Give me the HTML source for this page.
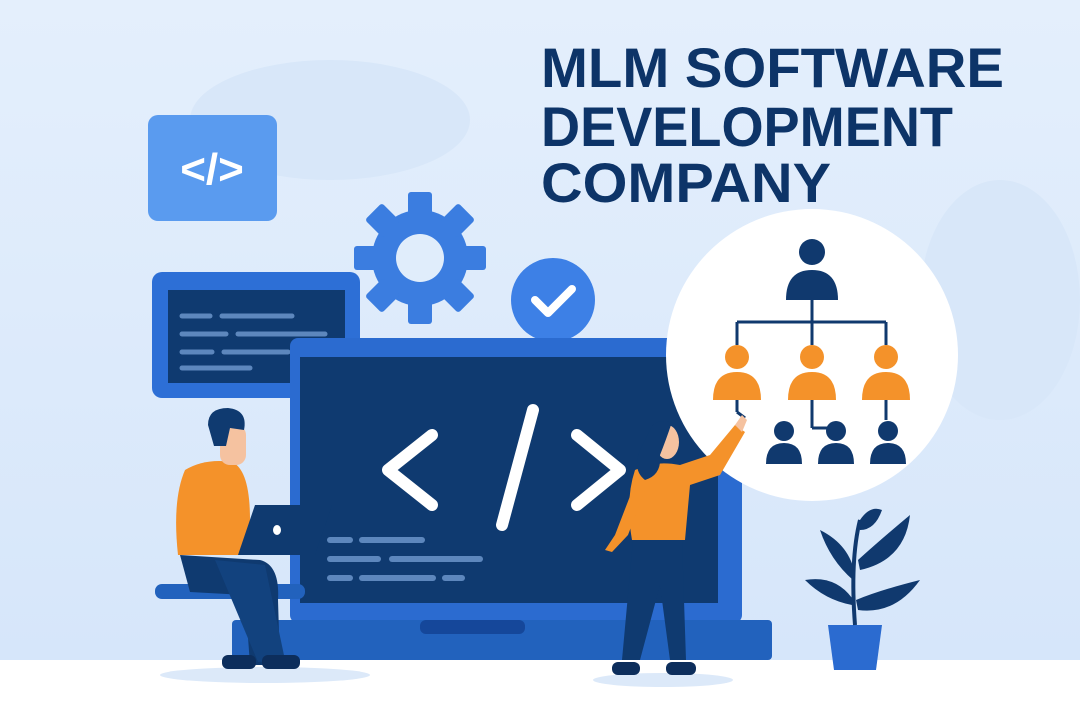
<!DOCTYPE html>
<html><head><meta charset="utf-8"><style>
html,body{margin:0;padding:0}
body{width:1080px;height:720px;overflow:hidden;background:#fff}
svg{display:block}
</style></head><body>
<svg width="1080" height="720" viewBox="0 0 1080 720" xmlns="http://www.w3.org/2000/svg">
<defs>
<linearGradient id="bg" x1="0" y1="0" x2="0" y2="1">
<stop offset="0" stop-color="#e4effc"/><stop offset="1" stop-color="#d6e6fa"/>
</linearGradient>
</defs>
<rect width="1080" height="665" fill="url(#bg)"/>
<rect y="660" width="1080" height="60" fill="#ffffff"/>
<ellipse cx="330" cy="120" rx="140" ry="60" fill="#d8e7f9"/>
<ellipse cx="1000" cy="300" rx="80" ry="120" fill="#d8e7f9"/>
<g font-family="Liberation Sans, sans-serif" font-weight="bold" font-size="56" fill="#0d3468">
<text x="541" y="87" textLength="463" lengthAdjust="spacingAndGlyphs">MLM SOFTWARE</text>
<text x="541" y="146" textLength="412" lengthAdjust="spacingAndGlyphs">DEVELOPMENT</text>
<text x="541" y="202" textLength="290" lengthAdjust="spacingAndGlyphs">COMPANY</text>
</g>
<rect x="148" y="115" width="129" height="106" rx="10" fill="#5a9bef"/>
<text x="212" y="184" text-anchor="middle" font-family="Liberation Sans, sans-serif" font-weight="bold" font-size="44" fill="#fff">&lt;/&gt;</text>
<g transform="translate(420,258)" fill="#3b7de0">
<circle r="48"/>
<g>
<rect x="-12" y="-66" width="24" height="26" rx="3"/>
<rect x="-12" y="-66" width="24" height="26" rx="3" transform="rotate(45)"/>
<rect x="-12" y="-66" width="24" height="26" rx="3" transform="rotate(90)"/>
<rect x="-12" y="-66" width="24" height="26" rx="3" transform="rotate(135)"/>
<rect x="-12" y="-66" width="24" height="26" rx="3" transform="rotate(180)"/>
<rect x="-12" y="-66" width="24" height="26" rx="3" transform="rotate(225)"/>
<rect x="-12" y="-66" width="24" height="26" rx="3" transform="rotate(270)"/>
<rect x="-12" y="-66" width="24" height="26" rx="3" transform="rotate(315)"/>
</g>
<circle r="24" fill="#e0edfb"/>
</g>
<circle cx="553" cy="300" r="42" fill="#3d80e6"/>
<path d="M535 300 L548 313 L572 289" stroke="#fff" stroke-width="8" fill="none" stroke-linecap="round" stroke-linejoin="round"/>
<rect x="152" y="272" width="208" height="126" rx="10" fill="#2d6fd6"/>
<rect x="168" y="290" width="177" height="93" fill="#0f3a70"/>
<g stroke="#5d87bd" stroke-width="5" stroke-linecap="round">
<line x1="182" y1="316" x2="210" y2="316"/><line x1="222" y1="316" x2="292" y2="316"/>
<line x1="182" y1="334" x2="226" y2="334"/><line x1="238" y1="334" x2="325" y2="334"/>
<line x1="182" y1="352" x2="212" y2="352"/><line x1="224" y1="352" x2="288" y2="352"/>
<line x1="182" y1="368" x2="250" y2="368"/>
</g>
<rect x="290" y="338" width="452" height="285" rx="8" fill="#2b6bd0"/>
<rect x="300" y="357" width="418" height="246" fill="#0f3a70"/>
<rect x="232" y="620" width="540" height="40" rx="4" fill="#2262bd"/>
<rect x="420" y="620" width="105" height="14" rx="6" fill="#15479a"/>
<g fill="none" stroke="#fff" stroke-width="12" stroke-linecap="round" stroke-linejoin="round">
<path d="M432 435 L388 470 L432 505"/>
<path d="M577 435 L620 470 L577 505"/>
<line x1="533" y1="410" x2="502" y2="525"/>
</g>
<g stroke="#5d87bd" stroke-width="6" stroke-linecap="round">
<line x1="330" y1="540" x2="350" y2="540"/><line x1="362" y1="540" x2="422" y2="540"/>
<line x1="330" y1="559" x2="378" y2="559"/><line x1="392" y1="559" x2="480" y2="559"/>
<line x1="330" y1="578" x2="350" y2="578"/><line x1="362" y1="578" x2="433" y2="578"/><line x1="445" y1="578" x2="462" y2="578"/>
</g>
<circle cx="812" cy="355" r="146" fill="#fff"/>
<g fill="#10396e">
<circle cx="812" cy="252" r="13"/><path d="M786 300 Q786 270 812 270 Q838 270 838 300 Z"/>
</g>
<g stroke="#10396e" stroke-width="3" fill="none">
<line x1="812" y1="300" x2="812" y2="322"/>
<line x1="737" y1="322" x2="886" y2="322"/>
<line x1="737" y1="322" x2="737" y2="345"/><line x1="812" y1="322" x2="812" y2="345"/><line x1="886" y1="322" x2="886" y2="345"/>
<line x1="812" y1="400" x2="812" y2="428"/><line x1="886" y1="400" x2="886" y2="420"/>
<line x1="737" y1="400" x2="737" y2="412"/><line x1="737" y1="412" x2="745" y2="418"/>
<line x1="812" y1="428" x2="835" y2="428"/>
</g>
<g fill="#f4922a">
<circle cx="737" cy="357" r="12"/><path d="M713 400 Q713 372 737 372 Q761 372 761 400Z"/>
<circle cx="812" cy="357" r="12"/><path d="M788 400 Q788 372 812 372 Q836 372 836 400Z"/>
<circle cx="886" cy="357" r="12"/><path d="M862 400 Q862 372 886 372 Q910 372 910 400Z"/>
</g>
<g fill="#10396e">
<circle cx="784" cy="431" r="10"/><path d="M766 464 Q766 443 784 443 Q802 443 802 464Z"/>
<circle cx="836" cy="431" r="10"/><path d="M818 464 Q818 443 836 443 Q854 443 854 464Z"/>
<circle cx="888" cy="431" r="10"/><path d="M870 464 Q870 443 888 443 Q906 443 906 464Z"/>
</g>
<!-- man -->
<ellipse cx="265" cy="675" rx="105" ry="8" fill="#dce9f9"/>
<rect x="155" y="584" width="150" height="15" rx="7" fill="#2262bd"/>
<path d="M180 555 L260 560 Q280 565 278 600 L280 665 L250 665 L245 595 L190 592 Z" fill="#0f3a70"/>
<path d="M215 560 L265 565 L285 660 L258 662 Z" fill="#12427e"/>
<rect x="222" y="655" width="34" height="14" rx="6" fill="#0d2e5c"/>
<rect x="262" y="655" width="38" height="14" rx="6" fill="#0d2e5c"/>
<path d="M185 470 Q205 458 232 462 Q250 470 250 520 L250 555 L178 555 Q172 500 185 470 Z" fill="#f4922a"/>
<rect x="220" y="425" width="26" height="40" rx="10" fill="#f5c2a0"/>
<path d="M208 425 Q208 408 228 408 Q248 410 244 430 L230 428 L226 446 L214 446 Z" fill="#0f3a70"/>
<path d="M255 505 L332 505 L315 555 L238 555 Z" fill="#0f3a70"/>
<ellipse cx="277" cy="530" rx="4" ry="5" fill="#fff"/>
<!-- woman -->
<ellipse cx="663" cy="680" rx="70" ry="7" fill="#dce9f9"/>
<path d="M633 540 L682 540 L686 660 L670 660 L660 585 L640 660 L622 660 Z" fill="#0f3a70"/>
<rect x="612" y="662" width="28" height="13" rx="6" fill="#0d2e5c"/>
<rect x="666" y="662" width="30" height="13" rx="6" fill="#0d2e5c"/>
<path d="M635 470 Q655 460 680 465 L710 455 L735 425 L745 432 L720 475 L690 485 L685 540 L632 540 Q625 500 635 470 Z" fill="#f4922a"/>
<path d="M637 478 L615 535 L605 550 L612 552 L628 535 L645 490 Z" fill="#f4922a"/>
<path d="M735 425 L742 415 L747 420 L742 432 Z" fill="#f5c2a0"/>
<ellipse cx="667" cy="442" rx="12" ry="17" fill="#f5c2a0"/>
<path d="M650 430 Q655 418 672 422 Q666 440 660 455 Q662 475 645 480 Q632 470 640 450 Q645 440 650 430 Z" fill="#0f3a70"/>
<!-- plant -->
<path d="M828 625 L882 625 L876 670 L834 670 Z" fill="#2b6bd0"/>
<g fill="#10396e">
<path d="M855 625 Q850 560 860 520" stroke="#10396e" stroke-width="4" fill="none"/>
<path d="M860 520 Q870 505 882 510 Q875 530 860 530 Z"/>
<path d="M858 560 Q880 540 910 515 Q905 560 860 570 Z"/>
<path d="M853 580 Q830 560 820 530 Q850 545 855 575 Z"/>
<path d="M856 600 Q880 590 920 580 Q895 615 858 610 Z"/>
<path d="M852 605 Q825 600 805 580 Q835 575 852 598 Z"/>
</g>
</svg>
</body></html>
